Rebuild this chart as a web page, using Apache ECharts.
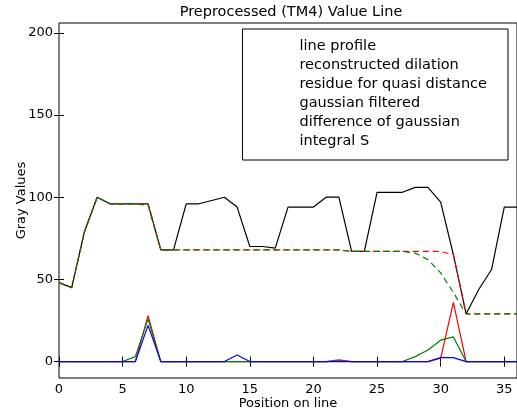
<!DOCTYPE html>
<html><head><meta charset="utf-8">
<script src="https://cdn.jsdelivr.net/npm/echarts@6/dist/echarts.min.js"></script>
<style>html,body{margin:0;padding:0;background:#fff}#c{width:517px;height:414px}</style>
</head><body><div id="c"></div>
<script>
const positions = [0,1,2,3,4,5,6,7,8,9,10,11,12,13,14,15,16,17,18,19,20,21,22,23,24,25,26,27,28,29,30,31,32,33,34,35,36];
const lineProfile = [48,45,79,100,96,96,96,96,68,68,96,96,98,100,94,70,70,69,94,94,94,100,100,67,67,103,103,103,106,106,97,65,29,44,56,94,94];
const reconstructedDilation = [48,45,79,100,96,96,96,96,68,68,68,68,68,68,68,68,68,68,68,68,68,68,68,67,67,67,67,67,67,67,67,65,29,29,29,29,29];
const residueQuasiDistance = [0,0,0,0,0,0,0,28,0,0,0,0,0,0,0,0,0,0,0,0,0,0,1,0,0,0,0,0,0,0,2,36,0,0,0,0,0];
const gaussianFiltered = [48,45,79,100,96,96,96,95,68,68,68,68,68,68,68,68,68,68,68,68,68,68,68,67,67,67,67,67,66,62,54,42,29,29,29,29,29];
const differenceOfGaussian = [0,0,0,0,0,0,3,26,0,0,0,0,0,0,0,0,0,0,0,0,0,0,0.5,0,0,0,0,0,3,7,13,15,0,0,0,0,0];
const integralS = [0,0,0,0,0,0,0,22,0,0,0,0,0,0,4,0,0,0,0,0,0,0,0,0,0,0,0,0,0,0,2.4,2.4,0,0,0,0,0];
const xTicks = [0,5,10,15,20,25,30,35];
const yTicks = [0,50,100,150,200];

const font = 'DejaVu Sans';
const pairs = arr => positions.map((p,i)=>[p,arr[i]]);
const defs = [
  ['line profile', lineProfile, '#000000', false],
  ['reconstructed dilation', reconstructedDilation, '#ff0000', true],
  ['residue for quasi distance', residueQuasiDistance, '#ff0000', false],
  ['gaussian filtered', gaussianFiltered, '#008000', true],
  ['difference of gaussian', differenceOfGaussian, '#008000', false],
  ['integral S', integralS, '#0000ff', false]
];
function mk(name, arr, color, dashed){
  return {name, type:'line', data:pairs(arr), showSymbol:false, symbol:'none', animation:false,
    lineStyle:{color, width:1.2, type: dashed ? [6,4] : 'solid'}, itemStyle:{color}, z:2};
}
const chart = echarts.init(document.getElementById('c'), null, {renderer:'canvas'});
const tickStyle = {show:true, inside:true, length:5, lineStyle:{color:'#000', width:1}};
chart.setOption({
  animation:false,
  backgroundColor:'#fff',
  title:{text:'Preprocessed (TM4) Value Line', left:286, textAlign:'center', top:0,
    textStyle:{fontFamily:font, fontSize:14.5, fontWeight:'normal', color:'#000'}},
  grid:{left:59, right:0, top:23, bottom:36, show:true, borderColor:'#000', borderWidth:1,
    backgroundColor:'transparent', containLabel:false, outerBoundsMode:'none'},
  legend:{orient:'vertical', right:9, top:29, itemWidth:24, itemHeight:14, itemGap:4,
    padding:[10,21,11,25], borderColor:'#000', borderWidth:1, backgroundColor:'#fff',
    textStyle:{fontFamily:font, fontSize:14.5, color:'#000', padding:[0,0,0,3]},
    data: defs.map(d => ({name:d[0], icon:'none',
      itemStyle:{color:d[2], opacity:0, borderWidth:0},
      lineStyle:{color:d[2], width:1, type: d[3] ? [6,4] : 'solid', opacity:1}}))},
  xAxis:[{type:'value', min:0, max:36, position:'bottom',
      name:'Position on line', nameLocation:'middle', nameGap:19, nameMoveOverlap:false,
      nameTextStyle:{fontFamily:font, fontSize:13, color:'#000'},
      axisLine:{show:false}, splitLine:{show:false},
      axisTick:Object.assign({customValues:xTicks}, tickStyle),
      axisLabel:{customValues:xTicks, fontFamily:font, fontSize:13, color:'#000', margin:5}},
    {type:'value', min:0, max:36, position:'top', axisLine:{show:false}, splitLine:{show:false},
      axisTick:Object.assign({customValues:xTicks}, tickStyle), axisLabel:{show:false}}],
  yAxis:[{type:'value', min:-10, max:206, position:'left',
      name:'Gray Values', nameLocation:'middle', nameGap:31, nameRotate:90, nameMoveOverlap:false,
      nameTextStyle:{fontFamily:font, fontSize:13, color:'#000'},
      axisLine:{show:false}, splitLine:{show:false},
      axisTick:Object.assign({customValues:yTicks}, tickStyle),
      axisLabel:{customValues:yTicks, fontFamily:font, fontSize:13, color:'#000', margin:6}},
    {type:'value', min:-10, max:206, position:'right', axisLine:{show:false}, splitLine:{show:false},
      axisTick:Object.assign({customValues:yTicks}, tickStyle), axisLabel:{show:false}}],
  series: defs.map(d => mk(d[0], d[1], d[2], d[3]))
});
</script></body></html>
